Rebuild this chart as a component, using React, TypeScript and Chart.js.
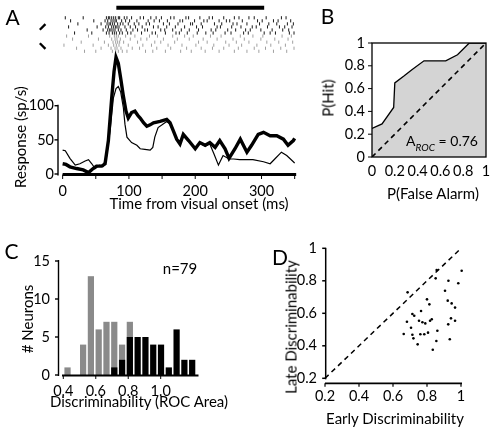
import React, { useEffect, useRef } from "react";
import { Chart, registerables } from "chart.js";

Chart.register(...registerables);

const FONT_FAMILY = "Lato, 'Liberation Sans', Arial, sans-serif";
const TICK_FONT = { family: FONT_FAMILY, size: 14.5 };
Chart.defaults.color = "#000";
Chart.defaults.font.family = FONT_FAMILY;

// ---------------- Panel A: PSTH + raster ----------------
const thickTime = [0, 5, 11, 21, 31, 39, 46, 51, 59, 64, 69, 74, 77.5, 80.5, 84, 87.6, 91.6, 95.6, 99, 104, 109, 114, 117, 122, 127, 132, 137, 147, 157, 162, 167, 172, 177, 182, 190, 200, 207, 215, 222, 230, 237, 245, 251, 260, 268, 278, 285, 295, 303, 313, 323, 333, 340, 348, 350];
const thickRate = [15, 14, 10.5, 8, 6, 2, 8, 11.5, 11.5, 15, 49, 111, 150, 171, 162, 140, 114, 92, 82, 90, 92, 85, 82, 75, 70, 72, 75, 77, 80, 75, 63, 51, 44, 58, 49, 37, 46, 42, 46, 39, 49, 37, 23, 37, 51, 32, 42, 58, 61, 56, 56, 51, 42, 49, 52];
const thinTime = [0, 4, 11, 19, 26, 34, 39, 44, 49, 56, 61, 66.5, 71.5, 76.5, 80.5, 84, 87.6, 91.6, 94, 97, 104, 112, 117, 124, 132, 136, 139, 144, 150, 157, 162, 167, 172, 177, 182, 190, 200, 207, 215, 222, 228, 235, 242, 251, 258, 267, 287, 303, 313, 320, 330, 338, 348, 350];
const thinRate = [35, 34, 23, 13, 15, 19, 21, 15, 8, 13, 11, 27, 63, 111, 125, 128, 120, 97, 73, 54, 46, 42, 37, 36, 35, 39, 54, 68, 72, 77, 73, 62, 50, 45, 56, 48, 38, 45, 41, 44, 30, 13, 27, 22, 22, 21, 21, 18, 15, 22, 32, 27, 18, 16];

const rasterBlack = [
  [4, 31, 66, 69, 71, 74, 77, 80, 84, 86, 93, 97, 104, 117, 122, 133, 141, 149, 163, 168, 186, 190, 207, 221, 226, 243, 259, 266, 281, 289, 307, 330, 337],
  [12, 47, 64, 68, 73, 76, 79, 81, 89, 95, 101, 112, 129, 138, 146, 158, 177, 181, 199, 213, 218, 236, 247, 252, 271, 294, 301, 318, 325, 344],
  [23, 58, 67, 70, 72, 75, 78, 83, 87, 91, 99, 108, 115, 126, 131, 152, 161, 174, 193, 196, 209, 229, 240, 257, 263, 278, 297, 311, 323, 339, 348],
  [9, 52, 65, 69, 74, 77, 80, 82, 85, 94, 102, 110, 120, 137, 144, 157, 170, 184, 202, 211, 233, 238, 255, 269, 286, 292, 309, 327, 335, 346],
  [37, 61, 68, 71, 73, 76, 79, 84, 88, 96, 106, 113, 124, 128, 148, 154, 166, 179, 191, 205, 224, 231, 249, 261, 276, 283, 299, 316, 332, 341],
  [18, 44, 66, 70, 75, 78, 81, 86, 90, 98, 103, 119, 135, 140, 155, 171, 176, 188, 203, 216, 227, 245, 254, 273, 280, 304, 313, 321, 342, 349],
];
const rasterGray = [
  [6, 39, 71, 78, 81, 84, 95, 109, 131, 143, 166, 184, 197, 223, 239, 268, 287, 302, 331, 345],
  [15, 54, 74, 79, 82, 87, 102, 118, 127, 152, 173, 191, 212, 233, 257, 274, 299, 320, 340],
  [28, 63, 76, 80, 83, 86, 92, 113, 139, 148, 169, 205, 218, 246, 262, 281, 308, 326, 347],
  [2, 46, 69, 77, 81, 85, 99, 121, 134, 159, 180, 201, 228, 251, 270, 293, 314, 336],
  [21, 58, 73, 79, 82, 88, 105, 116, 142, 163, 187, 209, 226, 243, 265, 289, 306, 329, 349],
  [33, 50, 75, 80, 84, 90, 97, 125, 136, 155, 178, 194, 215, 236, 259, 278, 296, 318, 338],
];
const stimulusOn = 81;
const stimulusOff = 304;
const timeTicks = [0, 100, 200, 300];
const timeMinorTicks = [0, 50, 100, 150, 200, 250, 300, 350];
const rateTicks = [0, 50, 100];

// ---------------- Panel B: ROC ----------------
const rocFalseAlarm = [0, 0.088, 0.19, 0.2, 0.28, 0.35, 0.456, 0.647, 0.75, 0.853, 1];
const rocHit = [0.25, 0.29, 0.435, 0.65, 0.71, 0.765, 0.844, 0.844, 0.897, 1, 1];
const rocArea = "0.76";
const probTicks = [0, 0.2, 0.4, 0.6, 0.8, 1];

// ---------------- Panel C: histogram ----------------
const binCenters = [0.426, 0.474, 0.522, 0.57, 0.618, 0.666, 0.714, 0.762, 0.81, 0.858, 0.906, 0.954, 1.002, 1.05, 1.098, 1.146, 1.194];
const countsGray = [1, 0, 4, 13, 6, 7, 7, 4, 7, 0, 0, 0, 0, 0, 0, 0, 0];
const countsBlack = [0, 0, 0, 0, 0, 0, 1, 2, 5, 5, 5, 4, 4, 1, 6, 2, 2];
const histXTicks = [0.4, 0.6, 0.8, 1.0];
const histYTicks = [0, 5, 10, 15];
const nNeurons = 79;

// ---------------- Panel D: scatter ----------------
const earlyDisc = [0.686, 0.851, 0.857, 1.004, 0.926, 0.984, 0.906, 0.8, 0.814, 0.922, 0.945, 0.965, 0.714, 0.725, 0.765, 0.682, 0.753, 0.773, 0.79, 0.818, 0.828, 0.941, 0.965, 0.925, 0.706, 0.861, 0.663, 0.714, 0.761, 0.784, 0.806, 0.72, 0.855, 0.934, 0.745, 0.834];
const lateDisc = [0.729, 0.815, 0.866, 0.862, 0.8, 0.785, 0.739, 0.686, 0.655, 0.678, 0.661, 0.635, 0.596, 0.585, 0.614, 0.548, 0.554, 0.545, 0.538, 0.554, 0.563, 0.569, 0.554, 0.532, 0.511, 0.493, 0.473, 0.468, 0.471, 0.471, 0.481, 0.446, 0.43, 0.44, 0.409, 0.376];
const discTicks = [0.2, 0.4, 0.6, 0.8, 1];

// ---------------- helpers ----------------
const fixW = (w: number) => (s: any) => { s.width = w; s.paddingTop = 0; s.paddingBottom = 0; };
const fixH = (h: number) => (s: any) => { s.height = h; s.paddingLeft = 0; s.paddingRight = 0; };
const setTicks = (vals: number[]) => (s: any) => { s.ticks = vals.map((v) => ({ value: v })); };
const noGrid = { display: false, drawTicks: false };
const noBorder = { display: false };
const fmt = (v: any) => String(Math.round(v * 100) / 100);

function seg(ctx: CanvasRenderingContext2D, x1: number, y1: number, x2: number, y2: number) {
  ctx.beginPath();
  ctx.moveTo(x1, y1);
  ctx.lineTo(x2, y2);
  ctx.stroke();
}

const baseOptions = (padding: any) => ({
  responsive: false,
  animation: false as const,
  events: [] as any[],
  layout: { padding },
  plugins: { legend: { display: false }, tooltip: { enabled: false } },
});

// ---------------- configs ----------------
const STIM_ROW = -3.3;

function configA(): any {
  const rasterPts = (rows: number[][], offset: number) =>
    rows.flatMap((row, i) => row.map((t) => ({ x: t, y: i + offset })));
  const rasterStyle = (color: string) => ({
    yAxisID: "yr",
    showLine: false,
    pointStyle: "line",
    pointRadius: 1.6,
    pointRotation: 90,
    pointBorderWidth: 1,
    pointBorderColor: color,
    pointBackgroundColor: color,
  });
  const axesA = {
    id: "axesA",
    afterDatasetsDraw(chart: any) {
      const { ctx, chartArea } = chart;
      const { x, y, yr } = chart.scales;
      ctx.save();
      ctx.strokeStyle = "#000";
      const ax = chartArea.left;
      ctx.lineWidth = 1.4;
      seg(ctx, ax, y.getPixelForValue(rateTicks[rateTicks.length - 1]) - 1, ax, y.getPixelForValue(0) + 1.5);
      rateTicks.forEach((v) => seg(ctx, ax - 3.5, y.getPixelForValue(v), ax, y.getPixelForValue(v)));
      const base = y.getPixelForValue(0) + 0.5;
      ctx.lineWidth = 3;
      seg(ctx, x.getPixelForValue(0), base, x.getPixelForValue(timeMinorTicks[timeMinorTicks.length - 1]) + 1.5, base);
      ctx.lineWidth = 1;
      timeMinorTicks.forEach((t) => seg(ctx, x.getPixelForValue(t), base, x.getPixelForValue(t), base + 4.5));
      // direction chevrons next to the two raster blocks
      ctx.lineWidth = 2.3;
      const cx = x.getPixelForValue(0) - 20;
      const c1 = yr.getPixelForValue(3);
      seg(ctx, cx + 2.8, c1 - 2.8, cx - 2.8, c1 + 2.8);
      const c2 = yr.getPixelForValue(9.3);
      seg(ctx, cx - 2.8, c2 - 2.8, cx + 2.8, c2 + 2.8);
      ctx.restore();
    },
  };
  return {
    type: "line",
    data: {
      datasets: [
        { data: thickTime.map((t, i) => ({ x: t, y: thickRate[i] })), borderColor: "#000", borderWidth: 3.4, pointRadius: 0, tension: 0, yAxisID: "y" },
        { data: thinTime.map((t, i) => ({ x: t, y: thinRate[i] })), borderColor: "#000", borderWidth: 1.2, pointRadius: 0, tension: 0, yAxisID: "y" },
        { data: rasterPts(rasterBlack, 0), ...rasterStyle("#1a1a1a") },
        { data: rasterPts(rasterGray, rasterBlack.length), ...rasterStyle("#a0a0a0") },
        { data: [{ x: stimulusOn, y: STIM_ROW }, { x: stimulusOff, y: STIM_ROW }], yAxisID: "yr", borderColor: "#000", borderWidth: 4, pointRadius: 0, borderCapStyle: "butt" },
      ],
    },
    options: {
      ...baseOptions({ left: 0, top: 2, right: 9, bottom: 0 }),
      scales: {
        x: { type: "linear", min: -7, max: 352, grid: noGrid, border: noBorder, ticks: { font: TICK_FONT, padding: 9, maxRotation: 0, autoSkip: false, callback: fmt }, afterBuildTicks: setTicks(timeTicks), afterFit: fixH(51) },
        y: { type: "linear", position: "left", min: 0, max: 247.5, grid: noGrid, border: noBorder, ticks: { font: TICK_FONT, padding: 4, autoSkip: false, callback: fmt }, afterBuildTicks: setTicks(rateTicks), afterFit: fixW(58) },
        yr: { type: "linear", position: "left", display: false, reverse: true, min: -4.2, max: 51.3, afterFit: fixW(0) },
      },
    },
    plugins: [axesA],
  };
}

function configB(): any {
  const boxB = {
    id: "boxB",
    afterDatasetsDraw(chart: any) {
      const { ctx } = chart;
      const { x, y } = chart.scales;
      ctx.save();
      ctx.strokeStyle = "#000";
      ctx.lineWidth = 1.3;
      const l = x.getPixelForValue(0), r = x.getPixelForValue(1), t = y.getPixelForValue(1), b = y.getPixelForValue(0);
      ctx.strokeRect(l, t, r - l, b - t);
      ctx.lineWidth = 1;
      probTicks.forEach((v) => seg(ctx, l - 4, y.getPixelForValue(v), l, y.getPixelForValue(v)));
      ctx.restore();
    },
  };
  return {
    type: "line",
    data: {
      datasets: [
        { data: [{ x: 0, y: 0 }, { x: 1, y: 1 }], borderColor: "#000", borderWidth: 1.6, borderDash: [5, 4], pointRadius: 0 },
        { data: rocFalseAlarm.map((f, i) => ({ x: f, y: rocHit[i] })), borderColor: "#000", borderWidth: 1.3, backgroundColor: "#d4d4d4", fill: "origin", pointRadius: 0, tension: 0 },
      ],
    },
    options: {
      ...baseOptions({ left: 0, top: 43, right: 4, bottom: 0 }),
      scales: {
        x: { type: "linear", min: 0, max: 1, grid: noGrid, border: noBorder, ticks: { font: TICK_FONT, padding: 6, autoSkip: false, maxRotation: 0, minRotation: 0, callback: fmt }, afterBuildTicks: setTicks(probTicks), afterFit: fixH(53) },
        y: { type: "linear", min: 0, max: 1, grid: noGrid, border: noBorder, ticks: { font: TICK_FONT, padding: 7, autoSkip: false, callback: fmt }, afterBuildTicks: setTicks(probTicks), afterFit: fixW(72) },
      },
    },
    plugins: [boxB],
  };
}

function configC(): any {
  const axesC = {
    id: "axesC",
    afterDatasetsDraw(chart: any) {
      const { ctx, chartArea } = chart;
      const { x, y } = chart.scales;
      ctx.save();
      ctx.strokeStyle = "#000";
      const ax = chartArea.left + 0.5;
      ctx.lineWidth = 1.4;
      seg(ctx, ax, y.getPixelForValue(histYTicks[histYTicks.length - 1]) - 1, ax, y.getPixelForValue(0) + 1);
      histYTicks.forEach((v) => seg(ctx, ax - 3.5, y.getPixelForValue(v), ax, y.getPixelForValue(v)));
      const base = y.getPixelForValue(0) + 0.5;
      ctx.lineWidth = 2;
      seg(ctx, ax + 3.5, base, chartArea.right - 1.5, base);
      ctx.lineWidth = 1;
      histXTicks.forEach((v) => seg(ctx, x.getPixelForValue(v), base, x.getPixelForValue(v), base + 3.5));
      ctx.restore();
    },
  };
  return {
    type: "bar",
    data: {
      datasets: [
        { data: binCenters.map((c, i) => ({ x: c, y: countsBlack[i] })), backgroundColor: "#000", borderWidth: 0, grouped: false, barPercentage: 0.8, categoryPercentage: 1 },
        { data: binCenters.map((c, i) => ({ x: c, y: countsGray[i] })), backgroundColor: "#8a8a8a", borderWidth: 0, grouped: false, barPercentage: 0.8, categoryPercentage: 1 },
      ],
    },
    options: {
      ...baseOptions({ left: 0, top: 31, right: 45, bottom: 0 }),
      scales: {
        x: { type: "linear", min: 0.3673, max: 1.2422, offset: false, grid: noGrid, border: noBorder, ticks: { font: TICK_FONT, padding: 8, autoSkip: false, maxRotation: 0, callback: (v: any) => Number(v).toFixed(1) }, afterBuildTicks: setTicks(histXTicks), afterFit: fixH(53) },
        y: { type: "linear", min: 0, max: 15, grid: noGrid, border: noBorder, ticks: { font: TICK_FONT, padding: 8, autoSkip: false, callback: fmt }, afterBuildTicks: setTicks(histYTicks), afterFit: fixW(58) },
      },
    },
    plugins: [axesC],
  };
}

function configD(): any {
  const axesD = {
    id: "axesD",
    afterDatasetsDraw(chart: any) {
      const { ctx } = chart;
      const { x, y } = chart.scales;
      ctx.save();
      ctx.strokeStyle = "#000";
      ctx.lineWidth = 1.5;
      const ax = x.getPixelForValue(discTicks[0]) + 0.7;
      seg(ctx, ax, y.getPixelForValue(1) - 0.5, ax, y.getPixelForValue(discTicks[0]) + 1);
      discTicks.forEach((v) => seg(ctx, ax - 3.5, y.getPixelForValue(v), ax, y.getPixelForValue(v)));
      const base = y.getPixelForValue(discTicks[0]) + 5;
      ctx.lineWidth = 1.8;
      seg(ctx, x.getPixelForValue(discTicks[0]), base, x.getPixelForValue(1) + 1, base);
      ctx.lineWidth = 1.2;
      discTicks.forEach((v) => seg(ctx, x.getPixelForValue(v), base, x.getPixelForValue(v), base + 3.5));
      ctx.restore();
    },
  };
  return {
    type: "line",
    data: {
      datasets: [
        { data: earlyDisc.map((e, i) => ({ x: e, y: lateDisc[i] })), showLine: false, pointRadius: 1.3, pointBackgroundColor: "#000", pointBorderColor: "#000", pointBorderWidth: 0 },
        { data: [{ x: 0.2, y: 0.2 }, { x: 1, y: 1 }], borderColor: "#000", borderWidth: 1.5, borderDash: [5, 4], pointRadius: 0 },
      ],
    },
    options: {
      ...baseOptions({ left: 0, top: 14, right: 24, bottom: 0 }),
      scales: {
        x: { type: "linear", min: 0.17059, max: 1.02941, grid: noGrid, border: noBorder, ticks: { font: TICK_FONT, padding: 2, autoSkip: false, maxRotation: 0, callback: fmt }, afterBuildTicks: setTicks(discTicks), afterFit: fixH(42) },
        y: { type: "linear", min: 0.15262, max: 1.02646, grid: noGrid, border: noBorder, ticks: { font: TICK_FONT, padding: 3, autoSkip: false, callback: fmt }, afterBuildTicks: setTicks(discTicks), afterFit: fixW(75) },
      },
    },
    plugins: [axesD],
  };
}

// ---------------- components ----------------
function ChartCanvas({ left, top, width, height, make }: { left: number; top: number; width: number; height: number; make: () => any }) {
  const ref = useRef<HTMLCanvasElement | null>(null);
  useEffect(() => {
    const chart = new Chart(ref.current as HTMLCanvasElement, make());
    return () => chart.destroy();
  }, []);
  return <canvas ref={ref} width={width} height={height} style={{ position: "absolute", left, top, width, height }} />;
}

function Label({ x, y, size = 15, rotate = false, children }: { x: number; y: number; size?: number; rotate?: boolean; children: any }) {
  return (
    <div
      style={{
        position: "absolute",
        left: x,
        top: y,
        transform: `translate(-50%, -50%)${rotate ? " rotate(-90deg)" : ""}`,
        fontFamily: FONT_FAMILY,
        fontSize: size,
        lineHeight: 1,
        whiteSpace: "nowrap",
        color: "#000",
      }}
    >
      {children}
    </div>
  );
}

export default function App() {
  return (
    <div style={{ position: "absolute", left: 0, top: 0, width: 490, height: 428, background: "#fff", overflow: "hidden" }}>
      <ChartCanvas left={0} top={0} width={305} height={225} make={configA} />
      <ChartCanvas left={300} top={0} width={190} height={210} make={configB} />
      <ChartCanvas left={0} top={230} width={245} height={198} make={configC} />
      <ChartCanvas left={245} top={230} width={245} height={198} make={configD} />

      <Label x={12.5} y={15.5} size={21}>A</Label>
      <Label x={327.5} y={14.5} size={21}>B</Label>
      <Label x={11.5} y={250} size={21}>C</Label>
      <Label x={280} y={256} size={21}>D</Label>

      <Label x={20} y={137} rotate>Response (sp/s)</Label>
      <Label x={199} y={203}>Time from visual onset (ms)</Label>
      <Label x={327.5} y={97.5} rotate>P(Hit)</Label>
      <Label x={433} y={193}>P(False Alarm)</Label>
      <Label x={442} y={141} size={14}>
        <span>A</span>
        <span style={{ fontStyle: "italic", fontSize: 10, position: "relative", top: 5 }}>ROC</span>
        <span>{` = ${rocArea}`}</span>
      </Label>

      <Label x={27} y={319} rotate># Neurons</Label>
      <Label x={180} y={268}>{`n=${nNeurons}`}</Label>
      <Label x={139} y={401}>Discriminability (ROC Area)</Label>

      <Label x={291} y={327} rotate>Late Discriminability</Label>
      <Label x={395} y={418}>Early Discriminability</Label>
    </div>
  );
}
